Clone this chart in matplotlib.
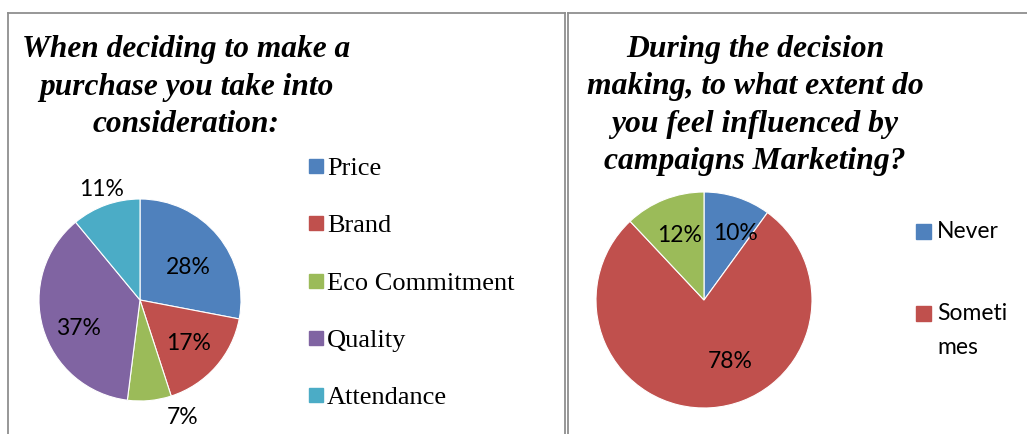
import matplotlib
matplotlib.use("Agg")
import matplotlib.pyplot as plt
from matplotlib.lines import Line2D
from matplotlib.patches import Rectangle
from matplotlib.transforms import offset_copy
import numpy as np

# --- data -------------------------------------------------------------
purchase_title = "When deciding to make a\npurchase you take into\nconsideration:"
purchase_labels = ["Price", "Brand", "Eco Commitment", "Quality", "Attendance"]
purchase_values = [28, 17, 7, 37, 11]

influence_title = ("During the decision\nmaking, to what extent do\n"
                   "you feel influenced by\ncampaigns Marketing?")
influence_labels = ["Never", "Someti\nmes", "Always"]
influence_values = [10, 78, 12]
influence_legend_count = 2

# --- styling ----------------------------------------------------------
office_colors = ["#4F81BD", "#C0504D", "#9BBB59", "#8064A2", "#4BACC6"]
W, H = 1027, 434
DPI = 100

fig = plt.figure(figsize=(W / DPI, H / DPI), dpi=DPI)
fig.patch.set_facecolor("white")


def fx(px):
    return px / W


def fy(py):
    return 1 - py / H


def frame(x0, x1, y0):
    kw = dict(color="#8f8f8f", lw=1.3, transform=fig.transFigure)
    fig.add_artist(Line2D([fx(x0), fx(x0)], [fy(y0), fy(H + 5)], **kw))
    fig.add_artist(Line2D([fx(x0), fx(x1)], [fy(y0), fy(y0)], **kw))
    if x1 < W:
        fig.add_artist(Line2D([fx(x1), fx(x1)], [fy(y0), fy(H + 5)], **kw))


frame(7.5, 565, 12.5)
frame(567.5, W + 5, 12.5)


def pie_axes(cx, cy, r):
    return fig.add_axes([fx(cx - r), fy(cy + r), 2 * r / W, 2 * r / H])


def draw_pie(ax, values, colors, label_place):
    wedges, _ = ax.pie(values, colors=colors, startangle=90, counterclock=False,
                       radius=1, wedgeprops=dict(edgecolor="white", linewidth=0.8))
    ax.set_xlim(-1, 1)
    ax.set_ylim(-1, 1)
    ax.axis("off")
    shifted = offset_copy(ax.transData, fig=fig, y=-2.5, units="points")
    for w, v, (dist, nudge) in zip(wedges, values, label_place):
        mid = np.deg2rad((w.theta1 + w.theta2) / 2 + nudge)
        ax.text(dist * np.cos(mid), dist * np.sin(mid), f"{v}%",
                ha="center", va="center", fontsize=16.5, family="Lato",
                transform=shifted, clip_on=False)
    return wedges


# Left chart
ax1 = pie_axes(140, 300, 101)
draw_pie(ax1, purchase_values, office_colors,
         [(0.60, -3), (0.62, 2), (1.20, 15), (0.66, 6), (1.19, -1)])
fig.text(fx(186), fy(87), purchase_title, ha="center", va="center",
         family="Liberation Serif", weight="bold", style="italic",
         fontsize=22.6, linespacing=1.38)
for i, (lab, col) in enumerate(zip(purchase_labels, office_colors)):
    ycen = 166 + i * 57.3
    fig.add_artist(Rectangle((fx(309), fy(ycen + 7)), 14 / W, 14 / H,
                             color=col, transform=fig.transFigure))
    fig.text(fx(327), fy(ycen + 9), lab, ha="left", va="baseline",
             family="Liberation Serif", fontsize=19)

# Right chart
ax2 = pie_axes(704, 300, 108)
draw_pie(ax2, influence_values, office_colors[:3],
         [(0.71, -6), (0.59, 21), (0.67, -2)])
fig.text(fx(755), fy(105.5), influence_title, ha="center", va="center",
         family="Liberation Serif", weight="bold", style="italic",
         fontsize=22.8, linespacing=1.38)
legend_rows = [231, 313]
for lab, col, ycen in zip(influence_labels[:influence_legend_count],
                          office_colors, legend_rows):
    fig.add_artist(Rectangle((fx(916), fy(ycen + 7.5)), 15 / W, 15 / H,
                             color=col, transform=fig.transFigure))
    fig.text(fx(937), fy(ycen - 10), lab, ha="left", va="top",
             family="Lato", fontsize=16.5, linespacing=1.75)

fig.savefig("out.png", dpi=DPI)
